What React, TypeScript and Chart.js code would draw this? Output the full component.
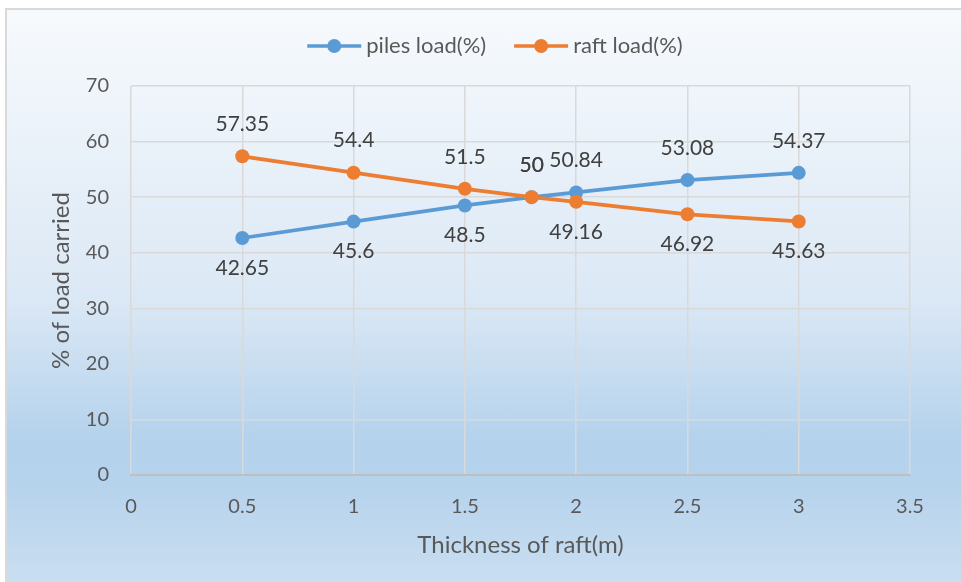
import React, { useEffect, useRef } from "react";
import { Chart, registerables } from "chart.js";

Chart.register(...registerables);

// Raft thickness (m) and share of load carried (%)
const thickness = [0.5, 1, 1.5, 1.8, 2, 2.5, 3];
const pilesLoad = [42.65, 45.6, 48.5, 50, 50.84, 53.08, 54.37];
const raftLoad = [57.35, 54.4, 51.5, 50, 49.16, 46.92, 45.63];
const pilesLabelSide = ["below", "below", "below", "above", "above", "above", "above"];
const raftLabelSide = ["above", "above", "above", "above", "below", "below", "below"];
const seriesNames = ["piles load(%)", "raft load(%)"];
const seriesColors = ["#5b9bd5", "#ed7d31"];

const FONT = "Lato, 'Open Sans', sans-serif";
const TEXT = "#595959";

const valueLabels = {
  id: "valueLabels",
  afterDatasetsDraw(chart: any) {
    const ctx = chart.ctx;
    ctx.save();
    ctx.font = `21px ${FONT}`;
    ctx.fillStyle = "#404040";
    ctx.textAlign = "center";
    ctx.textBaseline = "middle";
    chart.data.datasets.forEach((ds: any, di: number) => {
      const meta = chart.getDatasetMeta(di);
      const sides = ds.labelSides as string[];
      meta.data.forEach((pt: any, i: number) => {
        const v = ds.data[i].y;
        const dy = sides[i] === "above" ? -32 : 30;
        ctx.fillText(String(v), pt.x, pt.y + dy);
      });
    });
    ctx.restore();
  },
};

const customLegend = {
  id: "customLegend",
  afterDraw(chart: any) {
    const ctx = chart.ctx;
    ctx.save();
    ctx.font = `22px ${FONT}`;
    const lineLen = 54;
    const gap = 5;
    const spacing = 28;
    const widths = seriesNames.map((n) => ctx.measureText(n).width);
    const total = widths.reduce((a, w) => a + lineLen + gap + w, 0) + spacing;
    let x = 495 - total / 2;
    const y = 46;
    seriesNames.forEach((name, i) => {
      ctx.strokeStyle = seriesColors[i];
      ctx.lineWidth = 3.5;
      ctx.beginPath();
      ctx.moveTo(x, y);
      ctx.lineTo(x + lineLen, y);
      ctx.stroke();
      ctx.fillStyle = seriesColors[i];
      ctx.beginPath();
      ctx.arc(x + lineLen / 2, y, 7, 0, Math.PI * 2);
      ctx.fill();
      ctx.fillStyle = TEXT;
      ctx.textAlign = "left";
      ctx.textBaseline = "middle";
      ctx.fillText(name, x + lineLen + gap, y);
      x += lineLen + gap + widths[i] + spacing;
    });
    ctx.restore();
  },
};

export default function App() {
  const ref = useRef<HTMLCanvasElement | null>(null);

  useEffect(() => {
    if (!ref.current) return;
    const toPoints = (vals: number[]) => vals.map((v, i) => ({ x: thickness[i], y: v }));
    const chart = new Chart(ref.current, {
      type: "line",
      data: {
        datasets: [
          {
            label: seriesNames[0],
            data: toPoints(pilesLoad),
            borderColor: seriesColors[0],
            backgroundColor: seriesColors[0],
            borderWidth: 3.75,
            pointRadius: 7,
            pointHoverRadius: 7,
            pointBorderWidth: 0,
            order: 1,
            labelSides: pilesLabelSide,
          } as any,
          {
            label: seriesNames[1],
            data: toPoints(raftLoad),
            borderColor: seriesColors[1],
            backgroundColor: seriesColors[1],
            borderWidth: 3.75,
            pointRadius: 7,
            pointHoverRadius: 7,
            pointBorderWidth: 0,
            order: 0,
            labelSides: raftLabelSide,
          } as any,
        ],
      },
      options: {
        responsive: false,
        animation: false,
        layout: { padding: { top: 86, right: 51, bottom: 0, left: 0 } },
        plugins: {
          legend: { display: false },
          tooltip: { enabled: false },
        },
        scales: {
          x: {
            type: "linear",
            min: 0,
            max: 3.5,
            ticks: {
              stepSize: 0.5,
              padding: 20,
              color: TEXT,
              font: { family: FONT, size: 20 },
              callback: (v: any) => String(Number(v)),
            },
            grid: { color: "#d9d9d9", lineWidth: 1.5, drawTicks: false },
            border: { color: "#bfbfbf", width: 2 },
            title: {
              display: true,
              text: "Thickness of raft(m)",
              color: TEXT,
              font: { family: FONT, size: 24 },
              padding: { top: 0, bottom: 22 },
            },
            afterFit(scale: any) {
              scale.height = 107;
            },
          },
          y: {
            min: 0,
            max: 70,
            ticks: {
              stepSize: 10,
              padding: 22,
              color: TEXT,
              font: { family: FONT, size: 20 },
            },
            grid: { color: "#d9d9d9", lineWidth: 1.5, drawTicks: false },
            border: { display: false },
            title: {
              display: true,
              text: "% of load carried",
              color: TEXT,
              font: { family: FONT, size: 24 },
              padding: { top: 47, bottom: 0 },
            },
            afterFit(scale: any) {
              scale.width = 131;
            },
          },
        },
      },
      plugins: [valueLabels, customLegend],
    });
    return () => chart.destroy();
  }, []);

  return (
    <div
      style={{
        position: "fixed",
        left: 0,
        top: 0,
        width: 961,
        height: 582,
        overflow: "hidden",
        background: "#ffffff",
      }}
    >
      <div
        style={{
          position: "absolute",
          left: 5,
          top: 8,
          width: 960,
          height: 580,
          border: "2px solid #d9d9d9",
          background:
            "linear-gradient(180deg, #f7fafd 0%, #dbe8f5 50%, #b4d2ec 74%, #b6d3ec 82%, #cbdff1 100%)",
        }}
      />
      <canvas
        ref={ref}
        width={961}
        height={582}
        style={{ position: "absolute", left: 0, top: 0, width: 961, height: 582 }}
      />
    </div>
  );
}
